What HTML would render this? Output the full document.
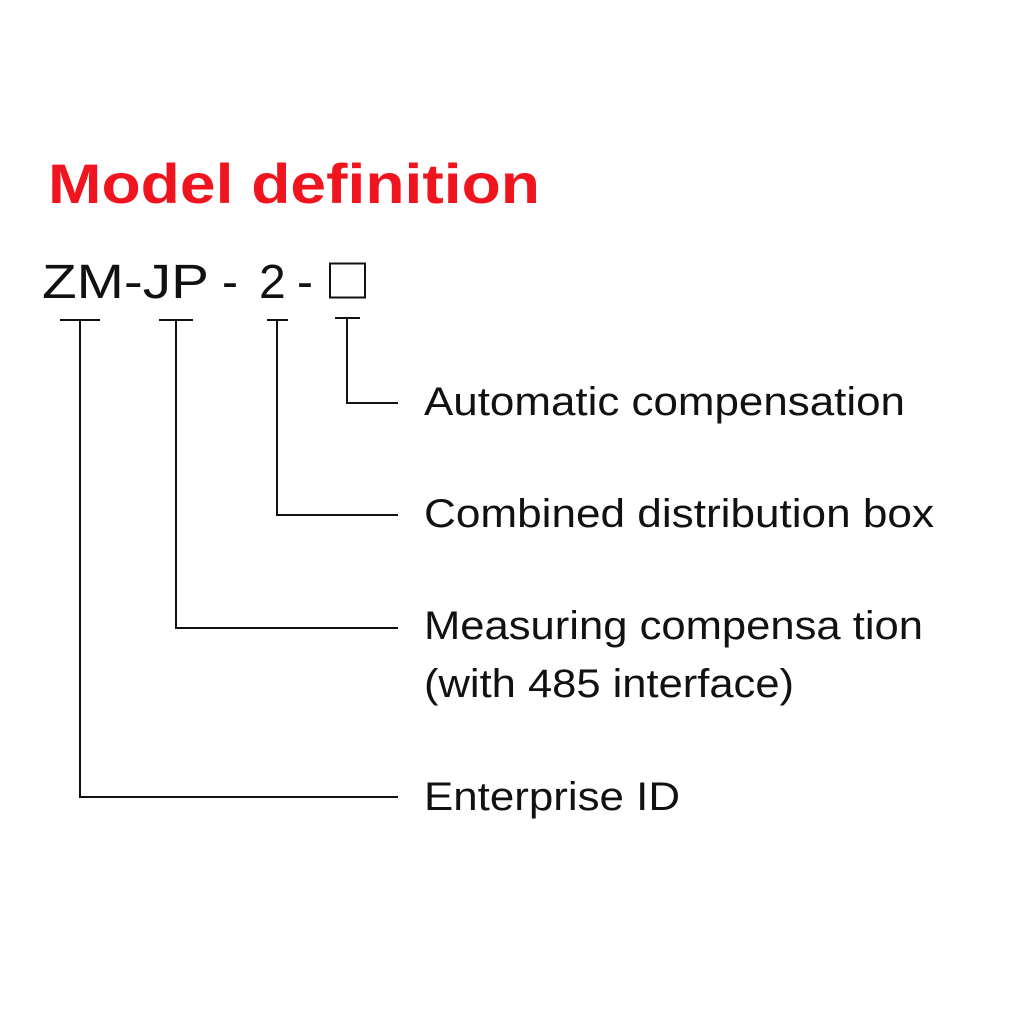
<!DOCTYPE html>
<html><head><style>html,body{margin:0;padding:0;background:#fff}</style></head>
<body>
<svg width="1024" height="1024" viewBox="0 0 1024 1024" xmlns="http://www.w3.org/2000/svg">
<rect width="1024" height="1024" fill="#fff"/>
<text x="48" y="203" font-family="Liberation Sans, sans-serif" font-weight="bold" font-size="56" fill="#f0141e" textLength="492" lengthAdjust="spacingAndGlyphs">Model definition</text>
<g font-family="Liberation Sans, sans-serif" font-size="48" fill="#111">
<text x="42" y="298" textLength="167" lengthAdjust="spacingAndGlyphs">ZM-JP</text>
<text x="222" y="298">-</text>
<text x="259" y="298">2</text>
<text x="297" y="298">-</text>
</g>
<rect x="330" y="263.5" width="35" height="34" fill="none" stroke="#111" stroke-width="2"/>
<g stroke="#111" stroke-width="2" fill="none">
<line x1="60" y1="320" x2="100" y2="320"/>
<polyline points="80,320 80,797 398,797"/>
<line x1="159" y1="320" x2="193" y2="320"/>
<polyline points="176,320 176,628 398,628"/>
<line x1="267" y1="320" x2="288" y2="320"/>
<polyline points="277,320 277,515 398,515"/>
<line x1="335" y1="318" x2="360" y2="318"/>
<polyline points="347,318 347,403 398,403"/>
</g>
<g font-family="Liberation Sans, sans-serif" font-size="40" fill="#111">
<text x="424" y="415" textLength="481" lengthAdjust="spacingAndGlyphs">Automatic compensation</text>
<text x="424" y="527" textLength="510" lengthAdjust="spacingAndGlyphs">Combined distribution box</text>
<text x="424" y="639" textLength="499" lengthAdjust="spacingAndGlyphs">Measuring compensa tion</text>
<text x="424" y="697" textLength="370" lengthAdjust="spacingAndGlyphs">(with 485 interface)</text>
<text x="424" y="810" textLength="256" lengthAdjust="spacingAndGlyphs">Enterprise ID</text>
</g>
</svg>
</body></html>
